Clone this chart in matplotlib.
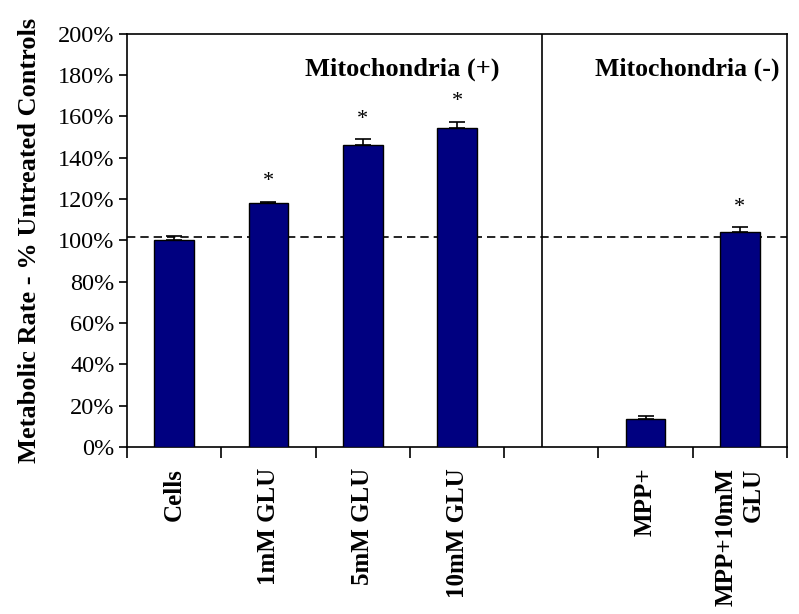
import numpy as np
import matplotlib
matplotlib.use("Agg")
import matplotlib.pyplot as plt

# data
categories = ["Cells", "1mM GLU", "5mM GLU", "10mM GLU", "", "MPP+", "MPP+10mM\nGLU"]
values = [100.0, 118.0, 146.0, 154.5, np.nan, 13.5, 104.0]
errors = [2.3, 0.8, 3.0, 3.0, np.nan, 1.5, 2.3]
significant = [False, True, True, True, False, False, True]
baseline = 101.5
yticks = list(range(0, 201, 20))

plt.rcParams['font.family'] = ['Liberation Serif', 'DejaVu Serif']

fig = plt.figure(figsize=(7.99, 6.14), dpi=100)
ax = fig.add_axes([0.159, 0.272, 0.826, 0.673])

x = np.arange(len(categories))
vals = np.array(values)
errs = np.array(errors)
ax.bar(x, vals, width=0.42, color='#000080', edgecolor='black', linewidth=1, zorder=3)
ax.errorbar(x, vals, yerr=[np.zeros_like(errs), errs], fmt='none', ecolor='black',
            elinewidth=1.2, capsize=6, capthick=1.2, zorder=4)

for xi, v, e, s in zip(x, vals, errs, significant):
    if s:
        ax.text(xi, v + e + 9.5, "*", ha='center', va='center', fontsize=16)

ax.axhline(baseline, color='black', linestyle=(0, (5, 3)), linewidth=1.2, zorder=2)
ax.axvline(3.9, color='black', linewidth=1.2, zorder=2)

ax.set_xlim(-0.5, len(categories) - 0.5)
ax.set_ylim(0, 200)
ax.set_yticks(yticks)
ax.set_yticklabels([f"{t}%" for t in yticks], fontsize=17.5)
ax.tick_params(axis='y', direction='out', length=6, width=1.2, pad=3)

ax.set_xticks(x)
ax.set_xticklabels(categories, rotation=90, fontsize=18, fontweight='bold',
                   va='top', ha='center', multialignment='right')
ax.tick_params(axis='x', which='major', length=0, pad=15)
ax.set_xticks(np.arange(-0.5, len(categories)), minor=True)
ax.tick_params(axis='x', which='minor', direction='out', length=8, width=1.2)

for sp in ax.spines.values():
    sp.set_linewidth(1.2)

ax.set_ylabel("Metabolic Rate - % Untreated Controls", fontsize=19, fontweight='bold', labelpad=12)

ax.text(0.565, 0.913, "Mitochondria (+)", transform=ax.transAxes, ha='right', va='center',
        fontsize=19, fontweight='bold')
ax.text(0.988, 0.913, "Mitochondria (-)", transform=ax.transAxes, ha='right', va='center',
        fontsize=18.5, fontweight='bold')

fig.savefig("out.png", dpi=100)
